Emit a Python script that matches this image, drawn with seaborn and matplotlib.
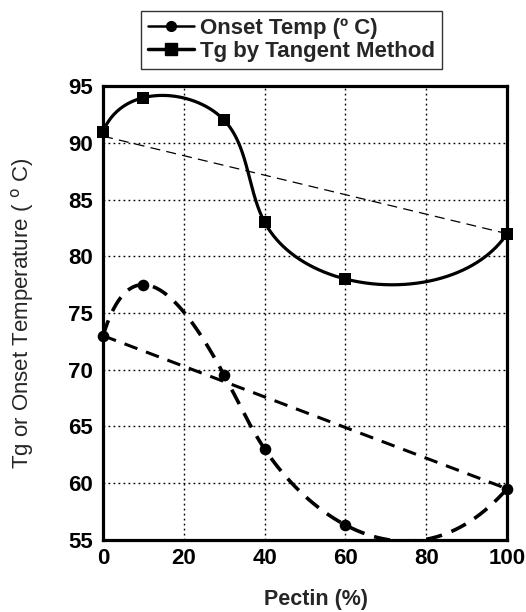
import numpy as np
import matplotlib
matplotlib.use("Agg")
import matplotlib.pyplot as plt
import seaborn as sns
from matplotlib.lines import Line2D

pectin = [0, 10, 30, 40, 60, 100]
onset = [73.0, 77.5, 69.5, 63.0, 56.3, 59.5]
tg = [91.0, 94.0, 92.0, 83.0, 78.0, 82.0]
tg_ref_x = [0, 100]
tg_ref_y = [90.6, 82.0]
onset_ref_x = [0, 100]
onset_ref_y = [73.0, 59.5]
xticks = [0, 20, 40, 60, 80, 100]
yticks = [55, 60, 65, 70, 75, 80, 85, 90, 95]
legend_labels = ['Onset Temp (º C)', 'Tg by Tangent Method']


def spline_coef(t, y):
    # cubic spline, not-a-knot end conditions
    t = np.asarray(t, float); y = np.asarray(y, float)
    n = len(t); h = np.diff(t)
    A = np.zeros((n, n)); b = np.zeros(n)
    A[0, 0] = h[1]; A[0, 1] = -(h[0] + h[1]); A[0, 2] = h[0]
    A[-1, -3] = h[-1]; A[-1, -2] = -(h[-2] + h[-1]); A[-1, -1] = h[-2]
    for i in range(1, n - 1):
        A[i, i - 1] = h[i - 1]; A[i, i] = 2 * (h[i - 1] + h[i]); A[i, i + 1] = h[i]
        b[i] = 3 * ((y[i + 1] - y[i]) / h[i] - (y[i] - y[i - 1]) / h[i - 1])
    c = np.linalg.solve(A, b)
    return t, y, h, c


def spline_eval(coef, ts):
    t, y, h, c = coef
    n = len(t)
    out = np.empty(len(ts))
    for k, tv in enumerate(ts):
        i = min(max(np.searchsorted(t, tv) - 1, 0), n - 2)
        dx = tv - t[i]
        bb = (y[i + 1] - y[i]) / h[i] - h[i] * (2 * c[i] + c[i + 1]) / 3
        d = (c[i + 1] - c[i]) / (3 * h[i])
        out[k] = y[i] + bb * dx + c[i] * dx ** 2 + d * dx ** 3
    return out


def smooth_curve(x, y, sx=4.04, sy=11.33):
    # parametric spline through the points, chord-length in screen units
    X = np.asarray(x, float) * sx; Y = np.asarray(y, float) * sy
    t = np.concatenate([[0], np.cumsum(np.hypot(np.diff(X), np.diff(Y)))])
    ts = np.linspace(0, t[-1], 1500)
    return spline_eval(spline_coef(t, X), ts) / sx, spline_eval(spline_coef(t, Y), ts) / sy


sns.set_theme(style="white")
plt.rcParams['font.family'] = ['Liberation Sans', 'DejaVu Sans']

fig = plt.figure(figsize=(5.26, 6.12), dpi=100)
ax = fig.add_axes([0.196, 0.118, 0.768, 0.741])

tx, ty = smooth_curve(pectin, tg)
ox, oy = smooth_curve(pectin, onset)
sns.lineplot(x=tx, y=ty, ax=ax, sort=False, estimator=None, color='black',
             lw=2.3, zorder=3)
sns.lineplot(x=ox, y=oy, ax=ax, sort=False, estimator=None, color='black',
             lw=2.6, linestyle=(0, (4.5, 2.8)), zorder=3)
sns.lineplot(x=tg_ref_x, y=tg_ref_y, ax=ax, color='black', lw=0.9,
             linestyle=(0, (8, 5)), zorder=2)
sns.lineplot(x=onset_ref_x, y=onset_ref_y, ax=ax, color='black', lw=2.2,
             linestyle=(0, (4.5, 3)), zorder=2)
sns.scatterplot(x=pectin, y=tg, ax=ax, marker='s', s=80, color='black',
                edgecolor='black', linewidth=0, zorder=4, clip_on=False)
sns.scatterplot(x=pectin, y=onset, ax=ax, marker='o', s=70, color='black',
                edgecolor='black', linewidth=0, zorder=4, clip_on=False)

ax.set_xlim(0, 100)
ax.set_ylim(55, 95)
ax.set_xticks(xticks)
ax.set_yticks(yticks)
ax.set_xticklabels([str(t) for t in xticks], fontsize=16, fontweight='bold')
ax.set_yticklabels([str(t) for t in yticks], fontsize=16, fontweight='bold')
ax.tick_params(axis='y', length=0, pad=7, colors='black')
ax.tick_params(axis='x', length=0, pad=6, colors='black')
ax.grid(True, color='black', linestyle=(0, (1.3, 2.3)), lw=1.0)
for s in ax.spines.values():
    s.set_color('black')
    s.set_linewidth(2.3)
ax.set_xlabel('Pectin (%)', fontsize=15.5, fontweight='bold')
ax.xaxis.set_label_coords(0.527, -0.108)
ax.set_ylabel('Tg or Onset Temperature ( $^{\\mathrm{o}}$ C)', fontsize=16)
ax.yaxis.set_label_coords(-0.166, 0.5)

handles = [
    Line2D([0], [0], color='black', lw=1.8, marker='o', markersize=7),
    Line2D([0], [0], color='black', lw=2.5, marker='s', markersize=8),
]
leg = fig.legend(handles, legend_labels,
                 loc='upper center', bbox_to_anchor=(0.554, 0.982),
                 prop={'weight': 'bold', 'size': 16}, frameon=True,
                 fancybox=False, edgecolor='black', handlelength=2.1,
                 handletextpad=0.25, borderpad=0.3, labelspacing=0.1,
                 borderaxespad=0)
leg.get_frame().set_linewidth(1.0)

fig.savefig('out.png', dpi=100)
